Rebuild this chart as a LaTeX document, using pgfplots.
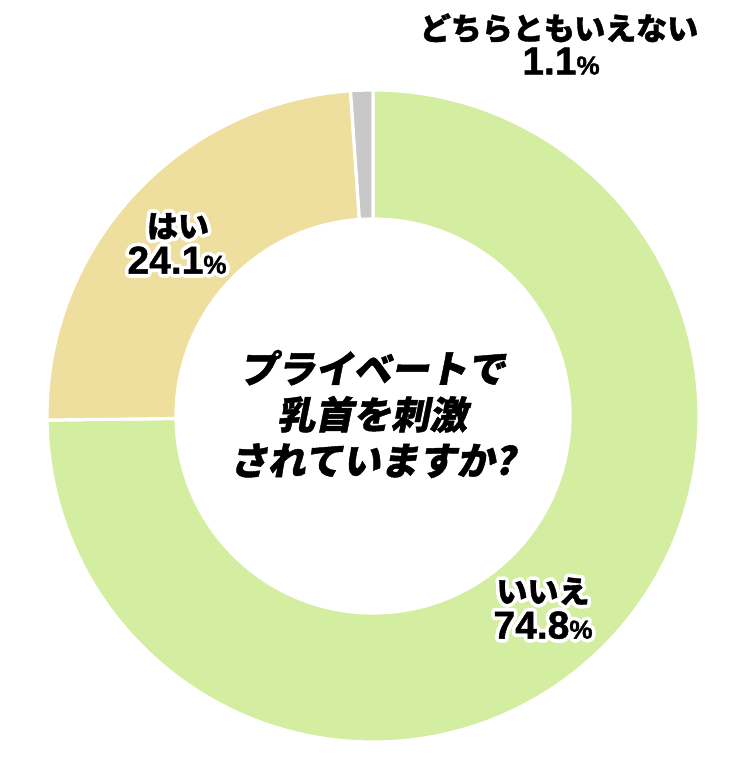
\documentclass[border=0pt]{standalone}
\usepackage{pgfplots}
\pgfplotsset{compat=1.18}
\usepackage{pgfplotstable}
\usepackage{fontspec}
\usepackage{contour}
\newfontfamily\jp{Noto Sans CJK JP}[BoldFeatures={FakeBold=1.2}]
\newfontfamily\jpslant{Noto Sans CJK JP}[FakeSlant=0.2, BoldFeatures={FakeBold=1.2}]
\newfontfamily\numfont{Liberation Sans}[BoldFeatures={FakeBold=1.2}]
\contourlength{1.8pt}
\contournumber{24}

\definecolor{cIie}{HTML}{D3EEA0}
\definecolor{cHai}{HTML}{EEDF9F}
\definecolor{cOther}{HTML}{C8C8C8}

% shares in percent, clockwise from 12 o'clock
\pgfplotstableread{
share
74.8
24.1
1.1
}\piedata

\pgfplotstablegetelem{0}{share}\of\piedata \let\sA\pgfplotsretval
\pgfplotstablegetelem{1}{share}\of\piedata \let\sB\pgfplotsretval
\pgfplotstablegetelem{2}{share}\of\piedata \let\sC\pgfplotsretval
\pgfmathsetmacro\aA{90}
\pgfmathsetmacro\aB{\aA-3.6*\sA}
\pgfmathsetmacro\aC{\aB-3.6*\sB}
\pgfmathsetmacro\aD{\aC-3.6*\sC}

% geometry in pixel units (1px = 0.5pt)
\def\cx{373}\def\cy{352}
\def\R{326}\def\r{197}
\def\Rpt{163pt}\def\rpt{98.5pt}

\newcommand\donutslice[3]{%
  \fill[#3, draw=white, line width=1.6pt]
    (axis cs:{\cx+\R*cos(#1)},{\cy+\R*sin(#1)})
    arc[start angle=#1, end angle=#2, radius=\Rpt]
    -- (axis cs:{\cx+\r*cos(#2)},{\cy+\r*sin(#2)})
    arc[start angle=#2, end angle=#1, radius=\rpt] -- cycle;}

\newcommand\jplab[1]{\contour{white}{\jp\bfseries\fontsize{15.5}{17}\selectfont #1}}
\newcommand\pctlab[1]{\contour{white}{\numfont\bfseries\fontsize{19.5}{19}\selectfont #1{\fontsize{13}{13}\selectfont\%}}}

\begin{document}
\begin{tikzpicture}
\begin{axis}[
    x=0.5pt, y=0.5pt,
    xmin=0, xmax=750, ymin=0, ymax=768,
    hide axis, clip=false,
]
\addplot[draw=none, forget plot] coordinates {(0,0) (750,768)};
\donutslice{\aA}{\aB}{cIie}
\donutslice{\aB}{\aC}{cHai}
\donutslice{\aC}{\aD}{cOther}

\node[inner sep=0] at (axis cs:559,738) {\jplab{どちらともいえない}};
\node[inner sep=0] at (axis cs:561,705) {\pctlab{\sC}};
\node[inner sep=0] at (axis cs:178,540) {\jplab{はい}};
\node[inner sep=0] at (axis cs:177,506) {\pctlab{\sB}};
\node[inner sep=0] at (axis cs:543,175) {\jplab{いいえ}};
\node[inner sep=0] at (axis cs:543,141) {\pctlab{\sA}};

\node[inner sep=0, align=center, font=\jpslant\bfseries\fontsize{19}{23}\selectfont]
  at (axis cs:372,354) {プライベートで\\乳首を刺激\\されていますか?};
\end{axis}
\end{tikzpicture}
\end{document}
